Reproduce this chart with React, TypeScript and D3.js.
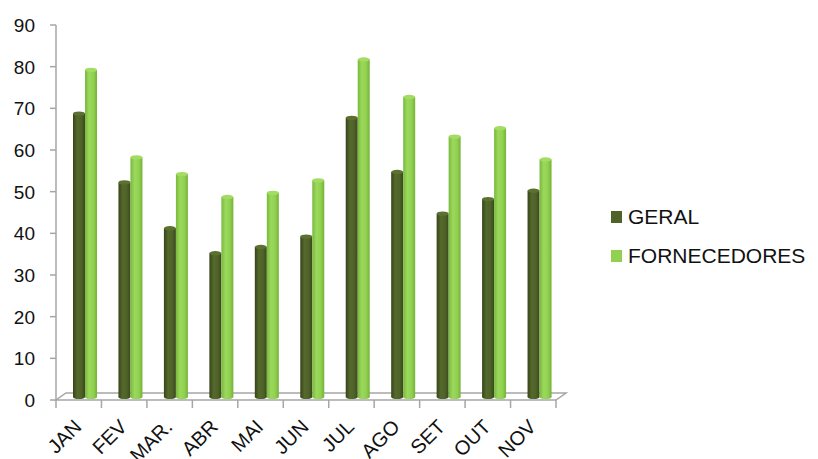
import React from "react";
import * as d3 from "d3";

const categories = ["JAN", "FEV", "MAR.", "ABR", "MAI", "JUN", "JUL", "AGO", "SET", "OUT", "NOV"];
const geral = [68, 51.5, 40.5, 34.5, 36, 38.5, 67, 54, 44, 47.5, 49.5];
const fornecedores = [78.5, 57.5, 53.5, 48, 49, 52, 81, 72, 62.5, 64.5, 57];
const yTicks = [0, 10, 20, 30, 40, 50, 60, 70, 80, 90];
const seriesNames = ["GERAL", "FORNECEDORES"];

export default function App() {
  const W = 818, H = 459;
  const x0 = 56, x1 = 556, yBase = 400, yTop = 25;
  const dx = 10, dy = 7;
  const x = d3.scaleBand<string>().domain(categories).range([x0, x1]);
  const y = d3.scaleLinear().domain([0, 90]).range([yBase, yTop]);
  const bw = 12;
  const font = "'Liberation Sans', Arial, sans-serif";
  const series = [
    { name: seriesNames[0], values: geral, grad: "gDark", cap: "#5c7130", off: 17 },
    { name: seriesNames[1], values: fornecedores, grad: "gLight", cap: "#a2dc62", off: 29 },
  ];
  const barBase = yBase - 3;
  return (
    <svg width={W} height={H} style={{ position: "absolute", left: 0, top: 0 }} fontFamily={font}>
      <defs>
        <linearGradient id="gDark" x1="0" x2="1" y1="0" y2="0">
          <stop offset="0" stopColor="#36441a" />
          <stop offset="0.35" stopColor="#55692c" />
          <stop offset="0.7" stopColor="#4f6228" />
          <stop offset="1" stopColor="#3a481d" />
        </linearGradient>
        <linearGradient id="gLight" x1="0" x2="1" y1="0" y2="0">
          <stop offset="0" stopColor="#79b83e" />
          <stop offset="0.35" stopColor="#9bd95c" />
          <stop offset="0.7" stopColor="#92d050" />
          <stop offset="1" stopColor="#74b33a" />
        </linearGradient>
      </defs>
      <rect width={W} height={H} fill="#fff" />
      {/* floor */}
      <polygon
        points={`${x0},${yBase} ${x1},${yBase} ${x1 + dx},${yBase - dy} ${x0 + dx},${yBase - dy}`}
        fill="#fff"
        stroke="#a6a6a6"
        strokeWidth={1.5}
      />
      {/* y axis */}
      <line x1={x0} x2={x0} y1={yTop} y2={yBase} stroke="#a6a6a6" strokeWidth={1.5} />
      {yTicks.map((t) => (
        <g key={t}>
          <line x1={x0 - 6} x2={x0} y1={y(t)} y2={y(t)} stroke="#a6a6a6" strokeWidth={1.5} />
          <text x={x0 - 21} y={y(t)} dy="0.36em" textAnchor="end" fontSize={19} fill="#111">
            {t}
          </text>
        </g>
      ))}
      {/* x ticks */}
      {[...categories.map((c) => x(c) as number), x1].map((p, i) => (
        <line key={i} x1={p} x2={p} y1={yBase} y2={yBase + 8} stroke="#a6a6a6" strokeWidth={1.5} />
      ))}
      {categories.map((c) => {
        const cx = (x(c) as number) + x.bandwidth() / 2 + 4;
        const cy = yBase + 28;
        return (
          <text
            key={c}
            transform={`translate(${cx},${cy}) rotate(-45)`}
            textAnchor="end"
            fontSize={20}
            fill="#111"
          >
            {c}
          </text>
        );
      })}
      {/* bars */}
      {categories.map((c, i) => (
        <g key={c}>
          {series.map((s) => {
            const bx = (x(c) as number) + s.off;
            const top = y(s.values[i]) - 3;
            return (
              <g key={s.name}>
                <ellipse cx={bx + bw / 2} cy={barBase} rx={bw / 2} ry={2} fill={`url(#${s.grad})`} />
                <rect x={bx} y={top} width={bw} height={barBase - top} fill={`url(#${s.grad})`} />
                <ellipse cx={bx + bw / 2} cy={top} rx={bw / 2} ry={2.2} fill={s.cap} />
              </g>
            );
          })}
        </g>
      ))}
      {/* legend */}
      {series.map((s, i) => (
        <g key={s.name} transform={`translate(611,${211 + i * 39})`}>
          <rect width={11} height={12} fill={i === 0 ? "#4f6228" : "#92d050"} />
          <text x={17} y={13} fontSize={21} fill="#111">
            {s.name}
          </text>
        </g>
      ))}
    </svg>
  );
}
